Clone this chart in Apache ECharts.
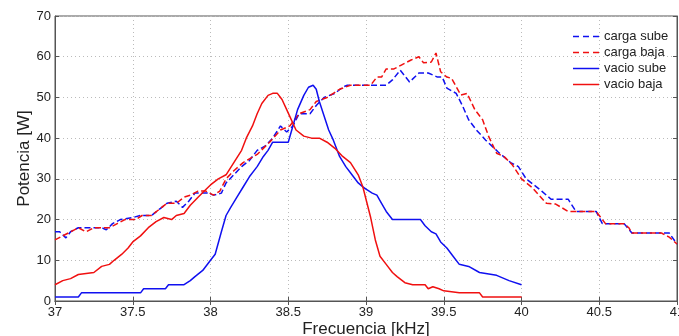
<!DOCTYPE html>
<html>
<head>
<meta charset="utf-8">
<script src="https://cdn.jsdelivr.net/npm/echarts@6/dist/echarts.min.js"></script>
<style>
    html, body { margin: 0; padding: 0; background: #fff; }
    #chart { width: 679px; height: 336px; }
</style>
</head>
<body>
<div id="chart"></div>
<script>
    // [frecuencia kHz, potencia W]
    var cargaSube = [[37,17],[37.03,17],[37.07,15.5],[37.1,17],[37.15,18],[37.3,18],[37.33,17.5],[37.37,19],[37.42,20],[37.5,20.5],[37.55,21],[37.62,21],[37.67,22.5],[37.72,24],[37.78,24.5],[37.82,23],[37.86,24.5],[37.9,26.5],[37.98,26.5],[38.02,26],[38.07,26.5],[38.1,29],[38.15,31],[38.2,33],[38.25,34.5],[38.3,37],[38.35,38],[38.4,40],[38.45,43],[38.49,41.5],[38.53,43],[38.57,46],[38.64,46],[38.68,48],[38.73,50],[38.8,51],[38.85,52.5],[38.88,53],[39.13,53],[39.17,54.3],[39.22,56.7],[39.28,53.8],[39.34,56],[39.4,56],[39.46,55],[39.49,55],[39.52,52.3],[39.58,51],[39.62,48],[39.66,44.5],[39.71,42],[39.77,39.5],[39.85,36.6],[39.93,34],[39.98,33],[40.03,30],[40.08,28.5],[40.13,27],[40.19,25],[40.3,25],[40.35,22],[40.48,22],[40.52,19],[40.66,19],[40.71,16.7],[40.95,16.7],[41,14]];
    var cargaBaja = [[37,15],[37.05,16],[37.1,17],[37.15,18],[37.2,17],[37.25,18],[37.35,18],[37.4,19],[37.45,20],[37.52,20],[37.56,21],[37.62,21],[37.67,22.5],[37.72,24],[37.78,24],[37.83,25.5],[37.87,26],[37.92,27],[37.97,27],[38.02,26],[38.06,27],[38.1,30],[38.15,32],[38.21,34],[38.3,36],[38.38,39],[38.45,42],[38.51,43],[38.57,46],[38.64,47],[38.68,49],[38.75,50],[38.79,51],[38.83,52],[38.9,53],[39.03,53],[39.07,55],[39.1,55],[39.13,57],[39.18,57],[39.23,58],[39.29,59.2],[39.34,60],[39.37,58.5],[39.42,58.7],[39.45,60.9],[39.48,56.3],[39.52,55],[39.55,54.7],[39.61,50.6],[39.65,51],[39.7,47],[39.75,44.5],[39.79,40.3],[39.84,36.3],[39.89,35.4],[39.94,33.5],[40,30],[40.07,27.8],[40.16,24],[40.22,23.8],[40.3,22],[40.48,22],[40.5,21],[40.54,19],[40.66,19],[40.69,18],[40.71,16.7],[40.9,16.7],[40.95,15.7],[41,14]];
    var vacioSube = [[37,1],[37.15,1],[37.17,2],[37.55,2],[37.57,3],[37.71,3],[37.73,4],[37.83,4],[37.87,5],[37.9,6],[37.95,7.5],[38,10],[38.03,11.5],[38.07,17],[38.1,21],[38.13,23],[38.17,25.5],[38.21,28],[38.25,30.5],[38.3,33],[38.34,35.5],[38.37,37],[38.4,39],[38.5,39],[38.53,43],[38.56,47],[38.6,50.5],[38.63,52.5],[38.66,53],[38.68,52],[38.7,49],[38.73,45.5],[38.76,42],[38.79,39.5],[38.83,35.5],[38.87,33],[38.9,31.5],[38.95,29],[38.98,28],[39,27.5],[39.04,26.5],[39.07,26],[39.1,24],[39.13,22],[39.17,20],[39.35,20],[39.38,18.5],[39.42,17],[39.45,16.5],[39.48,14.5],[39.52,13],[39.56,11],[39.6,9],[39.66,8.5],[39.73,7],[39.84,6.3],[39.92,5],[40,4]];
    var vacioBaja = [[37,4],[37.05,5],[37.1,5.5],[37.15,6.5],[37.25,7],[37.3,8.5],[37.35,9],[37.38,10],[37.43,11.5],[37.47,13],[37.5,14.5],[37.55,16],[37.6,18],[37.65,19.5],[37.7,20.5],[37.75,20],[37.78,21],[37.83,21.5],[37.87,23.5],[37.92,25.5],[37.96,27],[38,28.5],[38.05,30],[38.1,31],[38.15,34],[38.2,37],[38.23,40],[38.27,43],[38.3,46],[38.33,48.5],[38.37,50.5],[38.4,51],[38.43,51],[38.46,49.5],[38.49,47],[38.52,44.5],[38.55,42],[38.6,40.5],[38.65,40],[38.7,40],[38.75,39],[38.8,37.5],[38.85,35.5],[38.9,34],[38.95,31],[38.98,28],[39,25],[39.03,20.5],[39.06,15],[39.09,11],[39.13,9],[39.17,7],[39.2,6],[39.25,4.5],[39.3,4],[39.38,4],[39.4,3],[39.43,3.5],[39.47,3],[39.5,2.5],[39.6,2],[39.73,2],[39.75,1],[40,1]];

    var font = 'Liberation Sans, Arial, sans-serif';
    var iconDash = 'path://M0,0H6V1.5H0Z M10,0H16V1.5H10Z M20,0H26V1.5H20Z';
    var iconSolid = 'path://M0,0H26V1.5H0Z';
    var chart = echarts.init(document.getElementById('chart'));

    function linea(nombre, datos, color, tipo) {
        return {
            name: nombre,
            type: 'line',
            data: datos,
            symbol: 'none',
            animation: false,
            lineStyle: { color: color, width: 1.5, type: tipo },
            itemStyle: { color: color }
        };
    }

    chart.setOption({
        backgroundColor: '#fff',
        grid: {
            left: 55, right: 2, top: 16, bottom: 35,
            outerBoundsMode: 'none', containLabel: false,
            show: true, borderColor: '#555', borderWidth: 1
        },
        legend: {
            orient: 'vertical',
            left: 568,
            top: 25,
            itemWidth: 26,
            itemHeight: 14,
            itemGap: 3,
            textStyle: { fontFamily: font, fontSize: 13, color: '#222' },
            data: [
                { name: 'carga sube', icon: iconDash },
                { name: 'carga baja', icon: iconDash },
                { name: 'vacio sube', icon: iconSolid },
                { name: 'vacio baja', icon: iconSolid }
            ]
        },
        xAxis: [{
            type: 'value', min: 37, max: 41, interval: 0.5,
            name: 'Frecuencia [kHz]', nameLocation: 'middle', nameGap: 20, nameMoveOverlap: false,
            nameTextStyle: { fontFamily: font, fontSize: 17, color: '#222' },
            axisLine: { lineStyle: { color: '#555' } },
            axisTick: { inside: true, length: 4, lineStyle: { color: '#555' } },
            axisLabel: { fontFamily: font, fontSize: 13, color: '#222', margin: 5 },
            splitLine: { show: true, lineStyle: { color: '#bbb', type: [1, 3] } }
        }, {
            type: 'value', min: 37, max: 41, interval: 0.5, position: 'top',
            axisLine: { lineStyle: { color: '#555' } },
            axisTick: { inside: true, length: 4, lineStyle: { color: '#555' } },
            axisLabel: { show: false },
            splitLine: { show: false }
        }],
        yAxis: [{
            type: 'value', min: 0, max: 70, interval: 10,
            name: 'Potencia [W]', nameLocation: 'middle', nameGap: 22, nameMoveOverlap: false,
            nameTextStyle: { fontFamily: font, fontSize: 17, color: '#222' },
            axisLine: { show: true, lineStyle: { color: '#555' } },
            axisTick: { show: true, inside: true, length: 4, lineStyle: { color: '#555' } },
            axisLabel: { fontFamily: font, fontSize: 13, color: '#222', margin: 4 },
            splitLine: { show: true, lineStyle: { color: '#bbb', type: [1, 3] } }
        }, {
            type: 'value', min: 0, max: 70, interval: 10, position: 'right',
            axisLine: { show: true, lineStyle: { color: '#555' } },
            axisTick: { show: true, inside: true, length: 4, lineStyle: { color: '#555' } },
            axisLabel: { show: false },
            splitLine: { show: false }
        }],
        series: [
            linea('carga sube', cargaSube, '#1010f0', [6, 3]),
            linea('carga baja', cargaBaja, '#f01010', [6, 3]),
            linea('vacio sube', vacioSube, '#1010f0', 'solid'),
            linea('vacio baja', vacioBaja, '#f01010', 'solid')
        ]
    });
</script>
</body>
</html>
